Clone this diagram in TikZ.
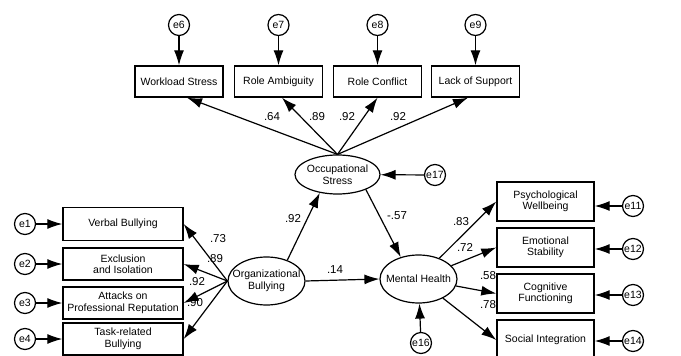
\documentclass[tikz,border=0pt]{standalone}
\usepackage{fontspec}
\setmainfont{Liberation Sans}
\usetikzlibrary{arrows.meta,shapes.geometric}

\tikzset{
  obs/.style = {draw, line width=1.4pt, align=center, inner sep=1pt,
                font=\fontsize{10.5}{11.5}\selectfont},
  lat/.style = {draw, ellipse, line width=1.2pt, align=center, inner xsep=-10pt, inner ysep=-6pt,
                font=\fontsize{10.5}{11.5}\selectfont},
  err/.style = {draw, circle, line width=1.2pt, minimum size=21pt, inner sep=0pt,
                font=\fontsize{10.5}{11.5}\selectfont},
  pth/.style = {-{Latex[length=15pt,width=10pt]}, line width=1.2pt},
  lbl/.style = {inner sep=0pt, font=\fontsize{11.5}{12}\selectfont}
}

\begin{document}
\begin{tikzpicture}[x=1pt,y=-1pt]
\useasboundingbox (0,0) rectangle (681,356);

% occupational stress and its indicators
\node[obs, minimum width=88pt, minimum height=31pt] (ws) at (179,81.5) {Workload Stress};
\node[obs, minimum width=88pt, minimum height=31pt] (ra) at (278.5,81.5) {Role Ambiguity};
\node[obs, minimum width=88pt, minimum height=31pt] (rc) at (377.5,81.5) {Role Conflict};
\node[obs, minimum width=88pt, minimum height=31pt] (ls) at (475.5,81.5) {Lack of Support};
\node[err] (e6) at (179,25) {e6};
\node[err] (e7) at (278.5,25) {e7};
\node[err] (e8) at (377.5,25) {e8};
\node[err] (e9) at (475.5,25) {e9};
\node[lat, minimum width=85pt, minimum height=39pt] (os) at (337.5,174.5) {Occupational\\Stress};
\node[err] (e17) at (435,175) {e17};

% organizational bullying
\node[lat, minimum width=77pt, minimum height=48pt] (ob) at (266.5,281) {Organizational\\Bullying};
\node[obs, minimum width=120pt, minimum height=33pt] (vb) at (123,224) {Verbal Bullying};
\node[obs, minimum width=120pt, minimum height=32pt] (ei) at (123,264) {Exclusion\\and Isolation};
\node[obs, minimum width=120pt, minimum height=32pt] (ap) at (123,303) {Attacks on\\Professional Reputation};
\node[obs, minimum width=120pt, minimum height=32pt] (tb) at (123,339) {Task-related\\Bullying};
\node[err] (e1) at (25,224) {e1};
\node[err] (e2) at (25,264) {e2};
\node[err] (e3) at (25,303) {e3};
\node[err] (e4) at (25,339) {e4};

% mental health
\node[lat, minimum width=77pt, minimum height=48pt] (mh) at (418.5,279) {Mental Health};
\node[err] (e16) at (421,343) {e16};
\node[obs, minimum width=97pt, minimum height=39pt] (pw) at (545.5,201.5) {Psychological\\Wellbeing};
\node[obs, minimum width=97pt, minimum height=39pt] (es) at (545.5,247.5) {Emotional\\Stability};
\node[obs, minimum width=97pt, minimum height=39pt] (cf) at (545.5,293.5) {Cognitive\\Functioning};
\node[obs, minimum width=97pt, minimum height=40pt] (si) at (545.5,340) {Social Integration};
\node[err] (e11) at (633,206) {e11};
\node[err] (e12) at (633,249) {e12};
\node[err] (e13) at (633,295) {e13};
\node[err] (e14) at (633,341) {e14};

% error terms
\draw[pth] (e6) -- (ws);
\draw[pth] (e7) -- (ra);
\draw[pth] (e8) -- (rc);
\draw[pth] (e9) -- (ls);
\draw[pth] (e17) -- (os);
\draw[pth] (e16) -- (mh);
\draw[pth] (e1) -- (e1 -| vb.west);
\draw[pth] (e2) -- (e2 -| ei.west);
\draw[pth] (e3) -- (e3 -| ap.west);
\draw[pth] (e4) -- (e4 -| tb.west);
\draw[pth] (e11) -- (e11 -| pw.east);
\draw[pth] (e12) -- (e12 -| es.east);
\draw[pth] (e13) -- (e13 -| cf.east);
\draw[pth] (e14) -- (e14 -| si.east);

% loadings
\draw[pth] (os.north) -- ([xshift=8pt]ws.south);
\draw[pth] (os.north) -- ([xshift=3.5pt]ra.south);
\draw[pth] (os.north) -- (rc.south);
\draw[pth] (os.north) -- ([xshift=-7.5pt]ls.south);
\draw[pth] (ob.west) -- (vb.east);
\draw[pth] (ob.west) -- (ei.east);
\draw[pth] (ob.west) -- (ap.east);
\draw[pth] (ob.west) -- (tb.east);
\draw[pth] (mh) -- (pw.west);
\draw[pth] (mh) -- (es.west);
\draw[pth] (mh) -- (cf.west);
\draw[pth] (mh) -- (si.west);

% structural paths
\draw[pth] (ob.45) -- (os.-134);
\draw[pth] (os.-28) -- (mh.129);
\draw[pth] (ob.east) -- (mh.west);

% coefficients
\node[lbl] (l1) at (272,117) {.64};
\node[lbl] (l2) at (317,117) {.89};
\node[lbl] (l3) at (347,117) {.92};
\node[lbl] (l4) at (398,117) {.92};
\node[lbl] (l5) at (218,239) {.73};
\node[lbl] (l6) at (215,259) {.89};
\node[lbl] (l7) at (197,282) {.92};
\node[lbl] (l8) at (195,303) {.90};
\node[lbl] (l9) at (293,219) {.92};
\node[lbl] (l10) at (335,270) {.14};
\node[lbl] (l11) at (397,216) {-.57};
\node[lbl] (l12) at (461,222) {.83};
\node[lbl] (l13) at (465,247) {.72};
\node[lbl] (l14) at (488,276) {.58};
\node[lbl] (l15) at (488,305) {.78};
\end{tikzpicture}
\end{document}
